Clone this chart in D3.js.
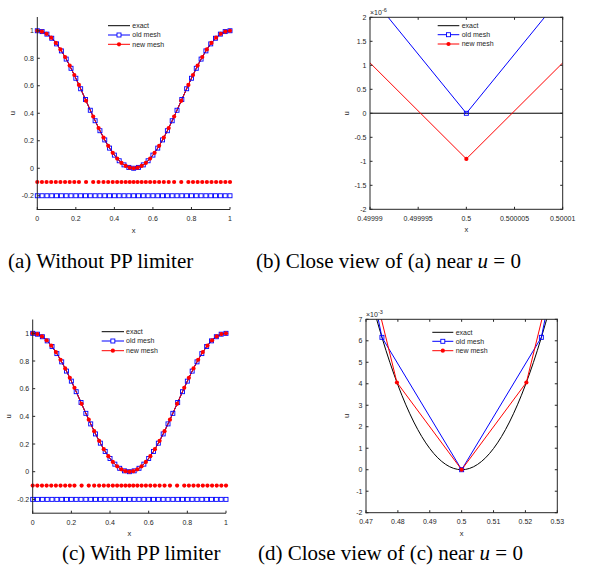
<!DOCTYPE html>
<html><head><meta charset="utf-8">
<script src="https://cdn.jsdelivr.net/npm/d3@7/dist/d3.min.js"></script>
<style>body{margin:0;background:#fff}svg{display:block}</style>
</head><body><svg id="c" width="614" height="575"></svg>
<script>
// ---------------- data ----------------
const oldX = [0,0.025,0.05,0.075,0.1,0.125,0.15,0.175,0.2,0.225,0.25,0.275,0.3,0.325,0.35,0.375,0.4,0.425,0.45,0.475,0.5,
  0.525,0.55,0.575,0.6,0.625,0.65,0.675,0.7,0.725,0.75,0.775,0.8,0.825,0.85,0.875,0.9,0.925,0.95,0.975,1];
const oldU = [1,0.99384,0.97553,0.94550,0.90451,0.85355,0.79389,0.72700,0.65451,0.57822,0.5,0.42178,0.34549,0.27300,0.20611,0.14645,0.09549,0.05450,0.02447,0.00616,0,
  0.00616,0.02447,0.05450,0.09549,0.14645,0.20611,0.27300,0.34549,0.42178,0.5,0.57822,0.65451,0.72700,0.79389,0.85355,0.90451,0.94550,0.97553,0.99384,1];
const newX = [0,0.024,0.048,0.072,0.096,0.120,0.144,0.168,0.192,0.216,0.253,0.290,0.318,0.3435,0.3678,0.3914,0.4144,0.4368,0.4586,0.4797,0.5,
  0.5203,0.5414,0.5632,0.5856,0.6086,0.6322,0.6565,0.682,0.710,0.747,0.784,0.808,0.832,0.856,0.880,0.904,0.928,0.952,0.976,1];
const newU_noPP = [1,0.99433,0.97743,0.94971,0.91176,0.86449,0.80892,0.74637,0.67820,0.60601,0.49058,0.37565,0.29281,0.22287,0.16280,0.11196,0.07059,0.03891,0.01682,0.00406,-0.00000095,
  0.00406,0.01682,0.03891,0.07059,0.11196,0.16280,0.22287,0.29281,0.37565,0.49058,0.60601,0.67820,0.74637,0.80892,0.86449,0.91176,0.94971,0.97743,0.99433,1];
const newU_PP = [1,0.99433,0.97743,0.94971,0.91176,0.86449,0.80892,0.74637,0.67820,0.60601,0.49058,0.37565,0.29281,0.22287,0.16280,0.11196,0.07059,0.03891,0.01682,0.00406,0,
  0.00406,0.01682,0.03891,0.07059,0.11196,0.16280,0.22287,0.29281,0.37565,0.49058,0.60601,0.67820,0.74637,0.80892,0.86449,0.91176,0.94971,0.97743,0.99433,1];
// exact solution sampled finely near x = 0.5 (for close views)
const exactZoomX = [0.46,0.465,0.47,0.475,0.48,0.485,0.49,0.495,0.5,0.505,0.51,0.515,0.52,0.525,0.53,0.535,0.54];
const exactZoomU = [0.015708,0.012042,0.008856,0.006156,0.003943,0.002219,0.000987,0.000247,0,0.000247,0.000987,0.002219,0.003943,0.006156,0.008856,0.012042,0.015708];
// mesh-marker levels
const newMeshLevel = -0.1, oldMeshLevel = -0.2;

const legendLabels = ["exact","old mesh","new mesh"];
const xTicksFull = [0,0.2,0.4,0.6,0.8,1];
const xTickLabelsFull = ["0","0.2","0.4","0.6","0.8","1"];
const yTicksFull = [-0.2,0,0.2,0.4,0.6,0.8,1];
const yTickLabelsFull = ["-0.2","0","0.2","0.4","0.6","0.8","1"];
const xTicksB = [0.49999,0.499995,0.5,0.500005,0.50001];
const xTickLabelsB = ["0.49999","0.499995","0.5","0.500005","0.50001"];
const yTicksB = [-2e-6,-1.5e-6,-1e-6,-0.5e-6,0,0.5e-6,1e-6,1.5e-6,2e-6];
const yTickLabelsB = ["-2","-1.5","-1","-0.5","0","0.5","1","1.5","2"];
const xTicksD = [0.47,0.48,0.49,0.5,0.51,0.52,0.53];
const xTickLabelsD = ["0.47","0.48","0.49","0.5","0.51","0.52","0.53"];
const yTicksD = [-2e-3,-1e-3,0,1e-3,2e-3,3e-3,4e-3,5e-3,6e-3,7e-3];
const yTickLabelsD = ["-2","-1","0","1","2","3","4","5","6","7"];
const captions = ["(a) Without PP limiter","(b) Close view of (a) near ","(c) With PP limiter","(d) Close view of (c) near "];

// ---------------- drawing ----------------
const svg = d3.select("#c");
const AX = "#262626", BLUE = "#0000ff", RED = "#ff0000";
const tickFont = "Liberation Sans, Arial, sans-serif";
let clipId = 0;

function panel(cfg){
  const x = d3.scaleLinear().domain(cfg.xDomain).range([cfg.left, cfg.right]);
  const y = d3.scaleLinear().domain(cfg.yDomain).range([cfg.bottom, cfg.top]);
  const g = svg.append("g");
  const id = "clip" + (clipId++);
  g.append("clipPath").attr("id", id).append("rect")
    .attr("x", cfg.left).attr("y", cfg.top).attr("width", cfg.right - cfg.left).attr("height", cfg.bottom - cfg.top);
  const plot = g.append("g").attr("clip-path", `url(#${id})`);
  const inX = v => v >= cfg.xDomain[0] - 1e-12 && v <= cfg.xDomain[1] + 1e-12;
  const inY = v => v >= cfg.yDomain[0] && v <= cfg.yDomain[1];

  plot.append("path").datum(cfg.exact)
    .attr("d", d3.line().x(d => x(d[0])).y(d => y(d[1])).curve(d3.curveNatural))
    .attr("fill", "none").attr("stroke", "#000").attr("stroke-width", 1);
  plot.append("path").datum(cfg.old)
    .attr("d", d3.line().x(d => x(d[0])).y(d => y(d[1])))
    .attr("fill", "none").attr("stroke", BLUE).attr("stroke-width", 1);
  plot.append("path").datum(cfg.neu)
    .attr("d", d3.line().x(d => x(d[0])).y(d => y(d[1])))
    .attr("fill", "none").attr("stroke", RED).attr("stroke-width", 1);

  const mk = g.append("g");
  const sq = (pts) => mk.selectAll(null).data(pts.filter(d => inX(d[0]) && inY(d[1]))).enter().append("rect")
    .attr("x", d => x(d[0]) - 2).attr("y", d => y(d[1]) - 2).attr("width", 4).attr("height", 4)
    .attr("fill", "none").attr("stroke", BLUE).attr("stroke-width", 0.9);
  const dot = (pts) => mk.selectAll(null).data(pts.filter(d => inX(d[0]) && inY(d[1]))).enter().append("circle")
    .attr("cx", d => x(d[0])).attr("cy", d => y(d[1])).attr("r", 2.1).attr("fill", RED);
  sq(cfg.old);
  if (cfg.oldMesh) sq(cfg.oldMesh);
  dot(cfg.neu);
  if (cfg.newMesh) dot(cfg.newMesh);

  const ax = g.append("g").attr("stroke", AX).attr("stroke-width", 1).attr("fill", "none");
  ax.append("line").attr("x1", cfg.left).attr("x2", cfg.left).attr("y1", cfg.top).attr("y2", cfg.bottom + 0.5);
  ax.append("line").attr("x1", cfg.left - 0.5).attr("x2", cfg.right).attr("y1", cfg.bottom).attr("y2", cfg.bottom);
  if (cfg.box){
    ax.append("line").attr("x1", cfg.right).attr("x2", cfg.right).attr("y1", cfg.top - 0.5).attr("y2", cfg.bottom + 0.5);
    ax.append("line").attr("x1", cfg.left - 0.5).attr("x2", cfg.right + 0.5).attr("y1", cfg.top).attr("y2", cfg.top);
  }
  const TL = 2.5;
  cfg.xTicks.forEach((t, i) => {
    const px = x(t);
    ax.append("line").attr("x1", px).attr("x2", px).attr("y1", cfg.bottom).attr("y2", cfg.bottom - TL);
    if (cfg.box) ax.append("line").attr("x1", px).attr("x2", px).attr("y1", cfg.top).attr("y2", cfg.top + TL);
    g.append("text").attr("x", px).attr("y", cfg.bottom + 11.5).attr("text-anchor", "middle")
      .attr("font-family", tickFont).attr("font-size", 7).attr("fill", AX).text(cfg.xTickLabels[i]);
  });
  cfg.yTicks.forEach((t, i) => {
    const py = y(t);
    ax.append("line").attr("x1", cfg.left).attr("x2", cfg.left + TL).attr("y1", py).attr("y2", py);
    if (cfg.box) ax.append("line").attr("x1", cfg.right).attr("x2", cfg.right - TL).attr("y1", py).attr("y2", py);
    g.append("text").attr("x", cfg.left - 3.5).attr("y", py + 2.5).attr("text-anchor", "end")
      .attr("font-family", tickFont).attr("font-size", 7).attr("fill", AX).text(cfg.yTickLabels[i]);
  });
  g.append("text").attr("x", (cfg.left + cfg.right) / 2).attr("y", cfg.bottom + 23).attr("text-anchor", "middle")
    .attr("font-family", tickFont).attr("font-size", 7.5).attr("fill", AX).text("x");
  g.append("text").attr("transform", `translate(${cfg.ylabX},${(cfg.top + cfg.bottom) / 2}) rotate(-90)`)
    .attr("text-anchor", "middle").attr("font-family", tickFont).attr("font-size", 7.5).attr("fill", AX).text("u");
  if (cfg.exponent){
    const t = g.append("text").attr("x", cfg.left).attr("y", cfg.top - 2)
      .attr("font-family", tickFont).attr("font-size", 7).attr("fill", AX);
    t.append("tspan").text("\u00d710");
    t.append("tspan").attr("dy", -3).attr("font-size", 5.5).text(cfg.exponent);
  }
  const L = cfg.legend;
  const lg = g.append("g");
  legendLabels.forEach((lab, i) => {
    const ly = L.rows[i];
    const col = i === 0 ? "#000" : i === 1 ? BLUE : RED;
    lg.append("line").attr("x1", L.x0).attr("x2", L.x1).attr("y1", ly).attr("y2", ly).attr("stroke", col).attr("stroke-width", 1);
    const mx = (L.x0 + L.x1) / 2;
    if (i === 1) lg.append("rect").attr("x", mx - 2).attr("y", ly - 2).attr("width", 4).attr("height", 4)
      .attr("fill", "#fff").attr("stroke", BLUE).attr("stroke-width", 0.9);
    if (i === 2) lg.append("circle").attr("cx", mx).attr("cy", ly).attr("r", 2.1).attr("fill", RED);
    lg.append("text").attr("x", L.tx).attr("y", ly + 2.4).attr("font-family", tickFont).attr("font-size", 7)
      .attr("fill", AX).text(lab);
  });
}

const zip = (a, b) => a.map((v, i) => [v, b[i]]);
const exactFull = zip(oldX, oldU);
const exactZoom = zip(exactZoomX, exactZoomU);

panel({left: 37.3, right: 230, top: 17, bottom: 209.5, xDomain: [0, 1], yDomain: [-0.3, 1.1],
  xTicks: xTicksFull, xTickLabels: xTickLabelsFull, yTicks: yTicksFull, yTickLabels: yTickLabelsFull,
  box: false, ylabX: 15, exact: exactFull, old: zip(oldX, oldU), neu: zip(newX, newU_noPP),
  oldMesh: oldX.map(v => [v, oldMeshLevel]), newMesh: newX.map(v => [v, newMeshLevel]),
  legend: {x0: 108, x1: 130, tx: 132.3, rows: [25.7, 35, 44.3]}});

panel({left: 370, right: 562.7, top: 17.3, bottom: 209.3, xDomain: [0.49999, 0.50001], yDomain: [-2e-6, 2e-6],
  xTicks: xTicksB, xTickLabels: xTickLabelsB, yTicks: yTicksB, yTickLabels: yTickLabelsB,
  box: true, ylabX: 348.5, exponent: "-6", exact: exactZoom, old: zip(oldX, oldU), neu: zip(newX, newU_noPP),
  legend: {x0: 437.7, x1: 459.3, tx: 461.7, rows: [25.7, 34.7, 44]}});

panel({left: 32.7, right: 226, top: 319.5, bottom: 513.2, xDomain: [0, 1], yDomain: [-0.3, 1.1],
  xTicks: xTicksFull, xTickLabels: xTickLabelsFull, yTicks: yTicksFull, yTickLabels: yTickLabelsFull,
  box: false, ylabX: 11, exact: exactFull, old: zip(oldX, oldU), neu: zip(newX, newU_PP),
  oldMesh: oldX.map(v => [v, oldMeshLevel]), newMesh: newX.map(v => [v, newMeshLevel]),
  legend: {x0: 101.7, x1: 124, tx: 126, rows: [331.7, 341, 350.7]}});

panel({left: 366, right: 557.3, top: 319.3, bottom: 512.7, xDomain: [0.47, 0.53], yDomain: [-2e-3, 7e-3],
  xTicks: xTicksD, xTickLabels: xTickLabelsD, yTicks: yTicksD, yTickLabels: yTickLabelsD,
  box: true, ylabX: 349, exponent: "-3", exact: exactZoom, old: zip(oldX, oldU), neu: zip(newX, newU_PP),
  legend: {x0: 432.3, x1: 453.3, tx: 455.7, rows: [332.3, 341.3, 350.7]}});

const capFont = "Liberation Serif, DejaVu Serif, serif";
function caption(xs, ys, txt, math){
  const t = svg.append("text").attr("x", xs).attr("y", ys)
    .attr("font-family", capFont).attr("font-size", 21).attr("fill", "#000");
  t.append("tspan").text(txt);
  if (math){
    t.append("tspan").attr("font-style", "italic").text("u");
    t.append("tspan").text(" = 0");
  }
}
caption(8, 268, captions[0], false);
caption(256, 268, captions[1], true);
caption(62, 560, captions[2], false);
caption(258, 560, captions[3], true);
</script></body></html>
